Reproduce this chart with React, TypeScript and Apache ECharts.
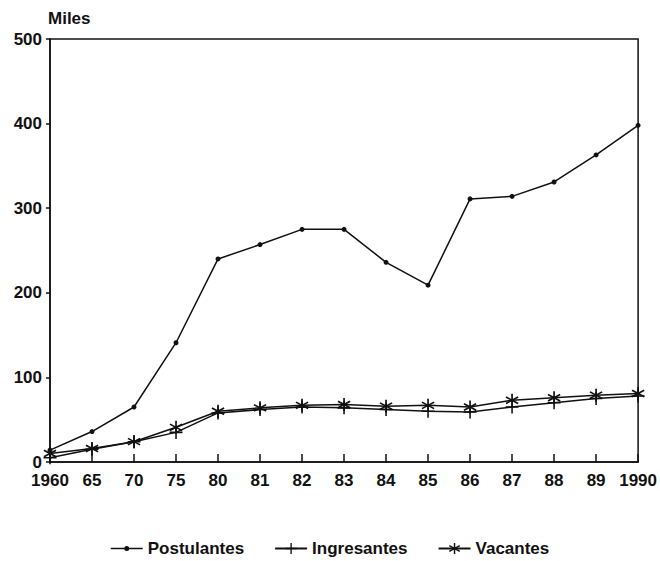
import React, { useEffect, useRef } from "react";
import * as echarts from "echarts";

const categories = ["1960", "65", "70", "75", "80", "81", "82", "83", "84", "85", "86", "87", "88", "89", "1990"];
const postulantes = [14, 36, 65, 141, 240, 257, 275, 275, 236, 209, 311, 314, 331, 363, 398];
const ingresantes = [5, 15, 24, 35, 58, 62, 65, 64, 62, 60, 59, 65, 70, 75, 78];
const vacantes = [10, 16, 24, 41, 60, 64, 67, 68, 66, 67, 65, 73, 76, 79, 81];
const yTicks = { min: 0, max: 500, interval: 100 };

const PLUS = "path://M4.4,0L5.6,0L5.6,10L4.4,10Z M0,4.4L10,4.4L10,5.6L0,5.6Z";
const STAR =
  "path://M4.4,0L5.6,0L5.6,10L4.4,10Z " +
  "M0.37,3.02L0.97,1.98L9.63,6.98L9.03,8.02Z " +
  "M0.97,8.02L0.37,6.98L9.03,1.98L9.63,3.02Z";
const DOT_LEGEND =
  "path://M0,5.3L32,5.3L32,6.7L0,6.7Z M13.5,6A2.5,2.5 0 1,1 18.5,6A2.5,2.5 0 1,1 13.5,6Z";

const FONT = "Liberation Sans";

export default function App() {
  const ref = useRef<HTMLDivElement>(null);
  useEffect(() => {
    if (!ref.current) return;
    const chart = echarts.init(ref.current, undefined, { renderer: "svg" });
    const lineStyle = { color: "#111", width: 1.5 };
    chart.setOption({
      animation: false,
      backgroundColor: "#fff",
      textStyle: { fontFamily: FONT },
      grid: {
        left: 50,
        top: 39,
        right: 20,
        bottom: 99,
        show: true,
        borderColor: "#111",
        borderWidth: 1.5,
        backgroundColor: "transparent",
      },
      graphic: [
        {
          type: "text",
          left: 48,
          top: 10,
          style: { text: "Miles", fill: "#111", font: `bold 17px '${FONT}'` },
        },
      ],
      legend: {
        top: 540,
        padding: 0,
        left: "center",
        itemWidth: 32,
        itemHeight: 14,
        itemGap: 30,
        textStyle: { color: "#111", fontWeight: "bold", fontSize: 17, fontFamily: FONT },
        data: [
          {
            name: "Postulantes",
            icon: DOT_LEGEND,
            itemStyle: { color: "#111", borderWidth: 0 },
          },
          { name: "Ingresantes" },
          { name: "Vacantes" },
        ],
      },
      xAxis: {
        type: "category",
        boundaryGap: false,
        data: categories,
        axisLine: { lineStyle: { color: "#111", width: 1.5 } },
        axisTick: { inside: true, length: 8, lineStyle: { color: "#111", width: 1.5 } },
        axisLabel: {
          color: "#111",
          fontWeight: "bold",
          fontSize: 17,
          fontFamily: FONT,
          margin: 10,
          interval: 0,
        },
        splitLine: { show: false },
      },
      yAxis: {
        type: "value",
        min: yTicks.min,
        max: yTicks.max,
        interval: yTicks.interval,
        axisLine: { show: true, lineStyle: { color: "#111", width: 1.5 } },
        axisTick: { show: true, length: 4, lineStyle: { color: "#111", width: 1.5 } },
        axisLabel: {
          color: "#111",
          fontWeight: "bold",
          fontSize: 17,
          fontFamily: FONT,
          margin: 8,
        },
        splitLine: { show: false },
      },
      series: [
        {
          name: "Postulantes",
          type: "line",
          data: postulantes,
          symbol: "circle",
          symbolSize: 5,
          lineStyle,
          itemStyle: { color: "#111" },
        },
        {
          name: "Ingresantes",
          type: "line",
          data: ingresantes,
          symbol: PLUS,
          symbolSize: 13,
          lineStyle,
          itemStyle: { color: "#111" },
        },
        {
          name: "Vacantes",
          type: "line",
          data: vacantes,
          symbol: STAR,
          symbolSize: 13,
          lineStyle,
          itemStyle: { color: "#111" },
        },
      ],
    });
    return () => chart.dispose();
  }, []);
  return (
    <div
      ref={ref}
      style={{ position: "absolute", left: 0, top: 0, width: 660, height: 561 }}
    />
  );
}
